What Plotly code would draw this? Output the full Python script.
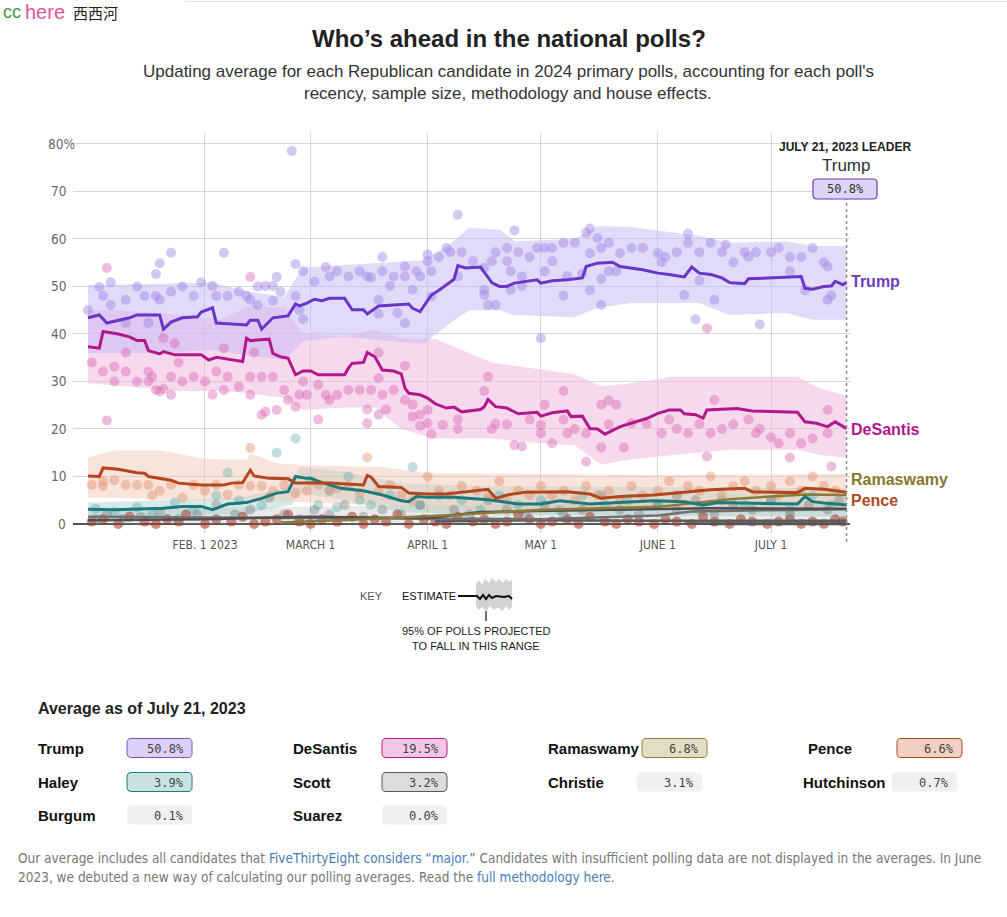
import plotly.graph_objects as go

W, H = 1007, 917

# ---------------------------------------------------------------- data
# polling averages (MM-DD in 2023, percent)
trump_line = [("01-01",43.4),("01-04",44.0),("01-06",42.3),("01-09",42.8),("01-12",43.4),("01-14",44.0),
    ("01-20",44.0),("01-21",41.0),("01-23",42.5),("01-26",43.4),("01-30",43.6),("01-31",44.6),("02-03",45.5),
    ("02-04",42.3),("02-12",41.9),("02-13",42.9),("02-15",42.9),("02-16",41.0),("02-19",43.4),("02-23",43.8),
    ("02-25",46.3),("02-26",45.9),("02-28",46.5),("03-02",47.3),("03-04",47.0),("03-06",47.5),("03-10",47.5),
    ("03-12",45.1),("03-15",45.1),("03-16",44.2),("03-19",45.9),("03-27",46.3),("03-28",45.4),("03-30",44.7),
    ("04-02",48.2),("04-04",49.2),("04-06",50.4),("04-08",51.5),("04-09",54.4),("04-11",53.9),("04-15",54.1),
    ("04-18",50.8),("04-20",50.0),("04-22",50.0),("04-24",50.7),("04-29",51.2),("04-30",51.4),("05-01",50.7),
    ("05-04",51.2),("05-08",51.4),("05-12",51.8),("05-13",54.2),("05-16",54.9),("05-20",55.1),("05-22",54.2),
    ("05-28",53.5),("06-01",52.8),("06-04",52.5),("06-08",52.0),("06-10",54.1),("06-12",52.8),("06-15",52.5),
    ("06-18",51.8),("06-20",50.8),("06-24",50.6),("06-25",51.6),("07-02",51.9),("07-09",52.1),("07-10",49.6),
    ("07-12",49.4),("07-15",50.0),("07-17",50.1),("07-18",51.1),("07-20",50.4),("07-21",50.8)]
desantis_line = [("01-01",37.3),("01-04",37.0),("01-05",40.5),("01-09",40.0),("01-12",39.4),("01-14",38.6),
    ("01-16",38.6),("01-17",36.5),("01-20",35.8),("01-21",36.3),("01-24",35.6),("01-31",35.6),("02-02",34.5),
    ("02-04",35.1),("02-07",34.7),("02-11",34.2),("02-12",39.1),("02-13",38.6),("02-18",38.9),("02-19",35.9),
    ("02-21",35.2),("02-23",34.9),("02-25",31.4),("02-27",32.2),("03-01",32.2),("03-03",31.4),("03-10",31.4),
    ("03-11",32.8),("03-12",33.8),("03-15",34.0),("03-16",36.1),("03-18",35.2),("03-20",32.4),("03-23",32.2),
    ("03-25",31.6),("03-26",28.6),("03-27",27.5),("03-30",27.2),("04-01",26.5),("04-03",25.3),("04-06",24.4),
    ("04-08",24.6),("04-10",23.6),("04-15",24.1),("04-16",24.7),("04-17",26.2),("04-19",24.7),("04-22",24.4),
    ("04-25",23.2),("04-30",23.5),("05-01",22.7),("05-04",23.4),("05-08",23.8),("05-09",22.6),("05-12",22.7),
    ("05-14",20.1),("05-16",20.0),("05-18",18.9),("05-22",20.5),("05-25",21.2),("05-29",22.2),("06-01",23.3),
    ("06-04",24.0),("06-07",24.0),("06-08",23.2),("06-11",23.0),("06-13",22.3),("06-14",24.0),("06-22",24.3),
    ("06-26",23.8),("07-08",23.5),("07-10",21.5),("07-13",21.2),("07-15",20.7),("07-16",20.5),("07-18",21.5),
    ("07-21",20.1)]
pence_line = [("01-01",10.1),("01-04",10.0),("01-05",11.8),("01-09",11.5),("01-14",10.8),("01-16",10.7),
    ("01-17",10.0),("01-20",9.6),("01-23",9.2),("01-25",8.6),("01-31",8.2),("02-06",8.2),("02-08",8.6),
    ("02-11",8.7),("02-13",11.3),("02-14",10.1),("02-18",9.6),("02-23",9.5),("02-25",8.6),("03-06",8.6),
    ("03-15",8.2),("03-16",10.2),("03-17",9.9),("03-19",7.9),("03-25",7.7),("03-27",6.5),("04-01",6.3),
    ("04-06",6.3),("04-12",6.8),("04-17",7.3),("04-19",5.4),("04-22",6.1),("04-27",6.7),("05-08",6.8),
    ("05-14",6.3),("05-17",5.4),("05-22",5.8),("05-31",6.1),("06-08",6.7),("06-15",7.2),("06-24",7.5),
    ("06-26",6.8),("07-08",6.6),("07-10",7.5),("07-15",7.3),("07-21",6.7)]
haley_line = [("01-01",3.1),("01-08",3.0),("01-21",3.3),("01-26",3.7),("01-31",3.7),("02-03",3.0),("02-07",4.2),
    ("02-12",4.5),("02-16",5.4),("02-20",6.5),("02-23",6.8),("02-25",10.0),("02-28",9.6),("03-01",9.6),
    ("03-04",8.7),("03-09",7.5),("03-15",7.0),("03-20",6.1),("03-25",4.9),("03-27",4.7),("03-29",5.8),
    ("04-01",5.6),("04-08",5.6),("04-17",5.1),("04-25",4.2),("05-01",4.2),("05-06",4.9),("05-14",4.2),
    ("05-31",4.9),("06-08",4.7),("06-13",4.0),("06-17",4.5),("07-08",4.2),("07-10",5.8),("07-12",4.7),
    ("07-15",4.4),("07-21",4.0)]
ramaswamy_line = [("02-21",0.3),("03-15",1.0),("04-10",2.0),("05-01",3.0),("06-01",3.6),("06-20",5.2),
    ("07-01",5.8),("07-10",6.2),("07-21",6.1)]
scott_line = [("01-01",0.8),("02-01",1.0),("03-01",1.5),("04-01",1.2),("04-15",2.5),("05-01",2.8),
    ("05-20",3.0),("06-15",3.3),("07-21",3.2)]
christie_line = [("01-01",1.5),("03-01",1.2),("05-01",1.0),("06-01",1.8),("06-10",2.6),("07-01",2.9),("07-21",3.1)]
hutchinson_line = [("04-03",0.5),("05-01",0.8),("06-01",0.7),("07-21",0.7)]
burgum_line = [("06-08",0.1),("07-21",0.1)]
suarez_line = [("06-15",0.0),("07-21",0.0)]

# 95% ranges (date, upper, lower)
trump_band = [("01-01",50.3,36.0),("01-20",50.5,36.0),("02-03",50.8,36.6),("02-12",49.0,35.5),("02-22",47.8,34.5),
    ("02-27",54.0,38.5),("03-10",54.5,39.4),("03-22",55.0,38.5),("03-31",55.5,38.0),("04-07",59.0,42.3),
    ("04-12",62.3,45.0),("04-20",62.0,45.0),("04-24",59.5,44.0),("05-10",60.0,43.5),("05-16",62.7,45.5),
    ("05-25",62.5,46.5),("06-05",61.3,46.5),("06-12",60.6,46.5),("06-20",59.2,44.0),("07-05",59.5,44.4),
    ("07-12",58.5,43.0),("07-21",58.5,43.0)]
desantis_band = [("01-01",45.0,29.6),("01-10",45.0,29.0),("01-25",44.0,28.0),("02-05",43.0,28.0),("02-13",46.0,27.5),
    ("02-22",45.5,26.5),("02-27",40.0,24.0),("03-10",39.5,24.5),("03-18",41.0,24.5),("03-25",39.0,20.0),
    ("04-03",39.0,18.0),("04-12",36.0,18.0),("04-18",34.0,18.0),("05-01",32.5,17.0),("05-10",31.5,16.5),
    ("05-17",29.0,12.5),("05-24",29.5,13.5),("06-05",31.0,14.5),("06-20",31.0,15.6),("07-08",31.0,15.6),
    ("07-14",28.5,14.5),("07-21",27.0,14.0)]
pence_band = [("01-01",14.0,5.5),("01-08",15.5,5.5),("01-20",15.5,5.2),("02-01",13.7,5.0),("02-12",13.5,5.0),
    ("02-13",14.8,5.0),("02-20",12.8,4.8),("03-01",12.3,4.5),("03-20",12.0,4.0),("04-01",10.7,3.0),
    ("05-01",10.5,3.0),("06-01",10.3,3.0),("07-21",10.5,3.0)]
haley_band = [("01-01",4.5,1.5),("02-10",5.5,2.0),("02-24",8.0,4.0),("02-26",12.0,6.5),("03-10",11.0,5.0),
    ("03-25",8.5,2.5),("04-15",8.0,2.0),("07-21",7.5,1.5)]
others_band = [("01-01",3.0,0.0),("04-01",4.0,0.0),("07-21",5.0,0.0)]

# individual polls (date, percent)
trump_polls = [("01-01",45.0),("01-04",49.9),("01-05",48.0),("01-07",50.9),("01-07",46.1),("01-11",47.2),("01-11",42.3),
    ("01-14",50.0),("01-16",48.0),("01-17",42.3),("01-19",48.0),("01-19",52.6),("01-20",47.2),("01-20",54.9),
    ("01-23",57.1),("01-23",48.9),("01-26",50.0),("01-29",48.0),("01-31",50.9),("02-03",50.1),("02-04",48.0),
    ("02-06",57.1),("02-07",48.0),("02-10",48.9),("02-12",48.0),("02-13",47.2),("02-15",50.0),("02-15",46.1),
    ("02-17",50.1),("02-19",50.1),("02-19",47.0),("02-20",52.0),("02-21",48.9),("02-24",78.5),("02-25",54.7),
    ("02-25",48.0),("02-26",45.0),("02-27",43.1),("02-27",53.2),("03-02",51.0),("03-05",54.1),("03-06",52.1),
    ("03-08",53.2),("03-11",52.1),("03-14",53.2),("03-16",52.1),("03-17",51.9),("03-19",47.2),("03-19",44.2),
    ("03-20",56.2),("03-20",53.2),("03-22",50.1),("03-23",52.1),("03-24",44.4),("03-26",54.2),("03-26",52.1),
    ("03-26",42.3),("03-28",49.3),("03-29",53.2),("03-30",52.1),("04-01",56.7),("04-01",55.3),("04-02",53.2),
    ("04-02",47.9),("04-04",56.2),("04-06",58.1),("04-07",57.2),("04-09",65.1),("04-09",52.1),("04-10",57.2),
    ("04-13",55.3),("04-16",53.9),("04-16",49.3),("04-16",48.2),("04-17",46.1),("04-18",55.3),("04-19",57.2),
    ("04-19",46.1),("04-22",55.3),("04-22",58.1),("04-23",53.2),("04-23",49.3),("04-24",61.8),("04-25",57.2),
    ("04-26",52.1),("04-26",50.1),("04-28",56.2),("04-30",58.1),("05-01",39.1),("05-02",58.1),("05-02",53.2),
    ("05-04",58.1),("05-04",55.3),("05-07",59.2),("05-07",48.1),("05-08",52.2),("05-10",59.2),("05-12",52.7),
    ("05-13",61.3),("05-14",62.2),("05-14",57.0),("05-14",49.2),("05-16",60.2),("05-17",58.1),("05-17",51.6),
    ("05-17",46.1),("05-19",59.2),("05-19",53.2),("05-21",53.2),("05-22",57.0),("05-25",58.1),("05-28",58.1),
    ("06-01",57.0),("06-02",55.1),("06-03",56.2),("06-06",57.2),("06-08",48.2),("06-09",61.1),("06-09",59.2),
    ("06-11",43.1),("06-12",57.2),("06-12",51.2),("06-15",59.2),("06-16",47.2),("06-18",57.2),("06-19",58.8),
    ("06-21",55.1),("06-24",57.2),("06-25",56.2),("06-27",57.2),("06-28",42.0),("07-01",57.2),("07-03",58.1),
    ("07-06",56.2),("07-06",53.2),("07-09",56.2),("07-10",49.2),("07-12",58.1),("07-15",55.1),("07-16",54.2),
    ("07-16",47.2),("07-17",48.1)]
desantis_polls = [("01-02",34.0),("01-05",32.1),("01-06",21.8),("01-06",53.9),("01-08",33.1),("01-08",30.0),
    ("01-11",36.1),("01-11",32.1),("01-14",30.0),("01-17",32.1),("01-17",30.0),("01-18",31.0),("01-19",28.2),
    ("01-20",27.9),("01-21",39.1),("01-21",28.4),("01-23",31.0),("01-23",27.2),("01-24",38.0),("01-25",34.0),
    ("01-26",30.0),("01-29",31.0),("02-01",30.0),("02-03",27.2),("02-04",32.1),("02-06",37.0),("02-06",28.2),
    ("02-07",31.0),("02-10",28.9),("02-13",27.2),("02-13",31.0),("02-13",52.0),("02-14",36.1),("02-16",31.0),
    ("02-16",23.0),("02-17",23.6),("02-19",31.0),("02-20",24.0),("02-22",28.2),("02-23",26.1),("02-25",24.7),
    ("02-26",27.2),("02-27",30.0),("02-28",27.2),("03-03",29.3),("03-03",22.0),("03-05",27.2),("03-06",26.1),
    ("03-08",27.2),("03-11",28.2),("03-14",28.2),("03-16",24.1),("03-16",21.2),("03-17",28.2),("03-19",23.0),
    ("03-19",30.7),("03-19",36.1),("03-20",27.2),("03-21",24.1),("03-23",28.2),("03-26",26.1),("03-26",33.3),
    ("03-28",25.1),("03-28",22.6),("03-30",23.0),("03-30",20.7),("04-01",24.0),("04-01",21.2),("04-02",18.9),
    ("04-05",20.9),("04-09",22.0),("04-09",20.0),("04-16",28.0),("04-17",31.0),("04-18",20.0),("04-19",21.1),
    ("04-22",21.0),("04-24",16.6),("04-26",16.3),("04-28",22.0),("05-01",19.1),("05-01",20.8),("05-02",25.1),
    ("05-04",17.0),("05-07",28.0),("05-07",22.0),("05-08",19.1),("05-10",20.0),("05-13",13.1),("05-13",19.1),
    ("05-17",25.1),("05-17",16.1),("05-19",26.0),("05-19",21.0),("05-21",25.1),("05-23",16.1),("05-25",21.2),
    ("05-29",21.1),("06-02",19.1),("06-04",22.0),("06-06",20.0),("06-09",19.1),("06-12",21.1),("06-14",14.2),
    ("06-14",41.2),("06-15",19.1),("06-16",26.1),("06-18",20.0),("06-21",21.0),("06-25",22.0),("06-27",19.1),
    ("06-28",20.0),("07-01",18.2),("07-03",17.0),("07-06",14.0),("07-06",19.1),("07-09",17.0),("07-12",18.0),
    ("07-16",24.0),("07-16",19.1),("07-17",12.1)]
pence_polls = [("01-02",8.2),("01-05",8.0),("01-05",9.0),("01-08",9.2),("01-11",8.2),("01-14",8.2),("01-17",8.2),
    ("01-18",6.0),("01-20",7.0),("01-23",8.2),("01-26",5.5),("01-29",8.2),("02-01",7.0),("02-04",8.2),("02-07",6.2),
    ("02-10",8.2),("02-13",16.0),("02-13",8.0),("02-16",8.0),("02-19",7.0),("02-22",8.2),("02-25",6.5),("02-28",7.0),
    ("03-03",8.2),("03-06",7.0),("03-08",7.5),("03-11",8.0),("03-14",6.5),("03-16",14.0),("03-19",7.0),("03-22",8.2),
    ("03-25",6.0),("03-28",5.0),("04-01",10.0),("04-04",7.0),("04-07",6.0),("04-10",8.0),("04-14",7.0),("04-17",6.0),
    ("04-20",9.0),("04-22",5.0),("04-25",7.0),("04-28",6.0),("05-01",8.0),("05-04",6.0),("05-07",7.0),("05-10",5.0),
    ("05-13",8.0),("05-16",6.0),("05-19",7.0),("05-22",5.0),("05-25",8.0),("05-28",6.0),("06-01",7.0),("06-04",9.0),
    ("06-06",6.0),("06-09",8.0),("06-12",7.0),("06-15",10.0),("06-18",6.0),("06-21",8.0),("06-24",9.0),("06-27",7.0),
    ("07-01",8.0),("07-03",6.0),("07-06",9.0),("07-09",7.0),("07-12",10.0),("07-15",8.0),("07-18",7.0)]
haley_polls = [("01-03",3.2),("01-08",2.5),("01-14",3.5),("01-18",2.0),("01-24",4.5),("01-29",3.0),("02-04",6.0),
    ("02-07",10.8),("02-10",5.0),("02-16",4.0),("02-20",15.0),("02-25",18.0),("03-01",9.0),("03-03",4.0),("03-06",7.0),
    ("03-08",3.5),("03-11",10.0),("03-14",5.0),("03-17",4.0),("03-22",6.0),("03-28",12.0),("03-30",4.0),("04-04",6.0),
    ("04-10",5.0),("04-15",3.0),("04-20",6.0),("04-25",4.0),("05-01",5.0),("05-06",3.0),("05-12",6.0),("05-18",4.0),
    ("05-24",5.0),("06-01",4.0),("06-06",6.0),("06-12",3.0),("06-18",5.0),("06-24",4.0),("07-01",5.0),("07-06",3.0),
    ("07-12",6.0),("07-17",4.0)]
other_polls = [("01-03",1.0),("01-06",2.0),("01-10",1.0),("01-15",1.5),("01-20",2.5),("01-25",1.0),("01-30",2.0),
    ("02-04",4.0),("02-09",2.0),("02-13",3.0),("02-18",5.5),("02-22",2.0),("02-26",1.0),("03-02",3.0),("03-06",2.0),
    ("03-10",4.0),("03-15",1.5),("03-20",3.0),("03-25",2.0),("03-30",4.0),("04-04",1.0),("04-08",3.0),("04-12",2.0),
    ("04-17",5.0),("04-22",3.0),("04-27",2.0),("05-02",4.0),("05-07",2.0),("05-12",3.0),("05-17",6.0),("05-22",3.0),
    ("05-27",2.0),("06-01",4.0),("06-06",3.0),("06-11",5.0),("06-16",2.0),("06-21",4.0),("06-26",3.0),("07-01",5.0),
    ("07-06",2.0),("07-11",4.0),("07-16",3.0),("07-19",5.0)]
low_polls = [("01-02",0.5),("01-05",1.0),("01-09",0.0),("01-12",1.5),("01-16",0.5),("01-19",0.0),("01-22",1.0),
    ("01-25",0.5),("01-27",2.0),("02-01",0.0),("02-04",1.0),("02-08",0.5),("02-11",1.5),("02-14",0.0),("02-17",0.5),
    ("02-20",1.0),("02-23",2.0),("02-26",0.5),("03-01",0.0),("03-04",1.0),("03-08",0.5),("03-12",1.5),("03-15",0.0),
    ("03-18",1.0),("03-21",0.5),("03-24",2.0),("03-27",0.0),("03-31",1.0),("04-03",0.5),("04-06",0.0),("04-09",1.5),
    ("04-13",0.5),("04-16",1.0),("04-19",0.0),("04-22",0.5),("04-25",2.0),("04-28",1.0),("05-01",0.0),("05-04",0.5),
    ("05-08",1.0),("05-11",0.0),("05-14",1.5),("05-18",0.5),("05-21",0.0),("05-24",1.0),("05-27",0.5),("05-31",0.0),
    ("06-03",1.0),("06-06",0.5),("06-10",0.0),("06-13",1.5),("06-16",0.5),("06-20",0.0),("06-23",1.0),("06-26",0.5),
    ("06-30",0.0),("07-03",0.5),("07-06",1.0),("07-09",0.0),("07-12",0.5),("07-15",0.0),("07-18",1.0),("07-20",0.5)]

# axes
x_tick_dates = ["2023-02-01", "2023-03-01", "2023-04-01", "2023-05-01", "2023-06-01", "2023-07-01"]
x_tick_text = ["FEB. 1 2023", "MARCH 1", "APRIL 1", "MAY 1", "JUNE 1", "JULY 1"]
y_tick_vals = [0, 10, 20, 30, 40, 50, 60, 70, 80]
y_tick_text = ["0", "10", "20", "30", "40", "50", "60", "70", "80%"]

# table: averages as of July 21, 2023
table_names = ["Trump", "DeSantis", "Ramaswamy", "Pence", "Haley", "Scott", "Christie", "Hutchinson", "Burgum", "Suarez"]
table_values = [50.8, 19.5, 6.8, 6.6, 3.9, 3.2, 3.1, 0.7, 0.1, 0.0]
leader_name = "Trump"
leader_value = 50.8
as_of = "July 21, 2023"
as_of_date = "2023-07-21"

# ---------------------------------------------------------------- helpers
def dx(pts):
    return ["2023-" + p[0] for p in pts]

def col(pts, i):
    return [p[i] for p in pts]

def X(v):
    return v / W

def Y(v):
    return 1 - v / H

SANS = "Liberation Sans, Arial, sans-serif"
NARROW = "DejaVu Sans Condensed, sans-serif"
MONO = "DejaVu Sans Mono, Liberation Mono, monospace"

fig = go.Figure()

def band(pts, color):
    fig.add_trace(go.Scatter(x=dx(pts), y=col(pts, 1), mode="lines", line=dict(width=0),
                             hoverinfo="skip", showlegend=False))
    fig.add_trace(go.Scatter(x=dx(pts), y=col(pts, 2), mode="lines", line=dict(width=0),
                             fill="tonexty", fillcolor=color, hoverinfo="skip", showlegend=False))

def dots(pts, color, op):
    fig.add_trace(go.Scatter(x=dx(pts), y=col(pts, 1), mode="markers",
                             marker=dict(size=10, color=color, opacity=op, line=dict(width=0)),
                             hoverinfo="skip", showlegend=False))

def line(pts, color, w=3):
    fig.add_trace(go.Scatter(x=dx(pts), y=col(pts, 1), mode="lines",
                             line=dict(color=color, width=w), hoverinfo="skip", showlegend=False))

# bands
band(others_band, "rgba(160,160,160,0.22)")
band(haley_band, "rgba(140,195,195,0.35)")
band(pence_band, "rgba(240,195,172,0.45)")
band(desantis_band, "rgba(240,185,222,0.55)")
band(trump_band, "rgba(198,182,243,0.5)")

# polls
dots(low_polls, "#a8321f", 0.55)
dots(other_polls, "#7d7d7d", 0.4)
dots(haley_polls, "#4aa5a5", 0.35)
dots(pence_polls, "#df9270", 0.45)
dots(desantis_polls, "#d96bb6", 0.45)
dots(trump_polls, "#9c84e3", 0.45)

# averages
line(suarez_line, "#555555", 2.5)
line(burgum_line, "#555555", 2.5)
line(hutchinson_line, "#5c5c5c", 2.5)
line(christie_line, "#707070", 2.5)
line(scott_line, "#4f4f4f", 2.5)
line(ramaswamy_line, "#8b7b3b", 2.5)
line(haley_line, "#1d7a7c", 3)
line(pence_line, "#b4461c", 3)
line(desantis_line, "#b3178e", 3)
line(trump_line, "#6a35c8", 3)

# ---------------------------------------------------------------- layout
x_left, x_right = 72.9, 850.3
y_top, y_bot = 133, 533

fig.update_layout(
    width=W, height=H, margin=dict(l=0, r=0, t=0, b=0),
    paper_bgcolor="white", plot_bgcolor="white", showlegend=False, hovermode=False,
    xaxis=dict(domain=[X(x_left), X(x_right)], type="date",
               range=["2022-12-28", "2023-07-22"], tickvals=x_tick_dates, ticktext=x_tick_text,
               showgrid=True, gridcolor="#d6d6d6", gridwidth=1, zeroline=False, showline=False,
               ticks="", tickfont=dict(family=NARROW, size=12, color="#555"), ticklabelstandoff=3),
    yaxis=dict(domain=[Y(y_bot), Y(y_top)], range=[-1.9, 82.3], tickvals=y_tick_vals,
               showticklabels=False, showgrid=True, gridcolor="#d6d6d6", gridwidth=1,
               zeroline=True, zerolinecolor="#555555", zerolinewidth=2, showline=False, ticks=""),
)

ann = []

def A(text, x, y, size, color="#222", family=SANS, xanchor="left", yanchor="middle", **kw):
    ann.append(dict(text=text, x=X(x), y=Y(y), xref="paper", yref="paper", showarrow=False,
                    xanchor=xanchor, yanchor=yanchor, font=dict(size=size, color=color, family=family), **kw))

# y tick labels
for v, t in zip(y_tick_vals, y_tick_text):
    ann.append(dict(text=t, x=X(77 if t.endswith("%") else 68), y=v, xref="paper", yref="y",
                    showarrow=False, xanchor="right", yanchor="middle",
                    font=dict(size=13.5, color="#666", family=NARROW)))

# header
A("cc", 1, 12, 18, "#3f9a3f")
A("here", 23, 12, 20, "#e0559c")
A("西西河", 71, 12, 15, "#222", "Noto Sans CJK SC")
A("<b>Who’s ahead in the national polls?</b>", 509, 38, 24, "#222", SANS, "center")
A("Updating average for each Republican candidate in 2024 primary polls, accounting for each poll's",
  508, 72, 17, "#333", SANS, "center")
A("recency, sample size, methodology and house effects.", 508, 93, 17, "#333", SANS, "center")

# leader callout
A("<b>JULY 21, 2023 LEADER</b>", 845, 147, 12, "#222", SANS, "center")
A(leader_name, 846, 165, 17, "#333", SANS, "center")
A(f"{leader_value:.1f}%", 845, 189, 12, "#333", MONO, "center")

# end-of-line labels
A("<b>Trump</b>", 849, 281, 16, "#6a3dbf")
A("<b>DeSantis</b>", 849, 429, 16, "#b0168b")
A("<b>Ramaswamy</b>", 849, 479, 16, "#86772c")
A("<b>Pence</b>", 849, 501, 16, "#b04a20")

# key
A("KEY", 371, 596, 11, "#555", SANS, "center")
A("ESTIMATE", 400, 596, 11, "#111", SANS, "left")
A("95% OF POLLS PROJECTED", 476, 631, 11, "#222", SANS, "center")
A("TO FALL IN THIS RANGE", 476, 646, 11, "#222", SANS, "center")

# table
A("<b>Average as of " + as_of + "</b>", 36, 708, 16, "#222")
item_pos = [(36, 127, 748), (291, 382, 748), (546, 642, 748), (806, 897, 748),
            (36, 127, 782), (291, 382, 782), (546, 637, 782), (801, 892, 782),
            (36, 127, 815), (291, 382, 815)]
box_style = [("#dcd0f6", "#7a55cc"), ("#f4c6e6", "#b3178e"), ("#e4ddc3", "#8b7b3b"), ("#f1d0c4", "#b4461c"),
             ("#c8e3e1", "#1d7a7c"), ("#dcdcdc", "#555555"), ("#f0f0f0", None), ("#f0f0f0", None),
             ("#f0f0f0", None), ("#f0f0f0", None)]

shapes = []

def rr(x0, y0, x1, y1, r=4):
    def P(a, b):
        return f"{X(a):.5f},{Y(b):.5f}"
    return (f"M{P(x0 + r, y0)} L{P(x1 - r, y0)} Q{P(x1, y0)} {P(x1, y0 + r)} L{P(x1, y1 - r)} "
            f"Q{P(x1, y1)} {P(x1 - r, y1)} L{P(x0 + r, y1)} Q{P(x0, y1)} {P(x0, y1 - r)} "
            f"L{P(x0, y0 + r)} Q{P(x0, y0)} {P(x0 + r, y0)} Z")

def poly(pts, close=True):
    s = "M" + " L".join(f"{X(a):.5f},{Y(b):.5f}" for a, b in pts)
    return s + (" Z" if close else "")

for name, val, (nx, bx, yy), (fc, lc) in zip(table_names, table_values, item_pos, box_style):
    A(f"<b>{name}</b>", nx, yy, 15, "#111")
    shapes.append(dict(type="path", path=rr(bx, yy - 9.5, bx + 65, yy + 9.5), xref="paper", yref="paper",
                       fillcolor=fc, line=dict(color=lc if lc else fc, width=1 if lc else 0), layer="above"))
    A(f"{val:.1f}%", bx + 59, yy + 0.5, 12, "#444", MONO, "right")

# footer
LINK = "#4a7db3"
A(f'Our average includes all candidates that <span style="color:{LINK}">FiveThirtyEight considers “major.”</span>'
  ' Candidates with insufficient polling data are not displayed in the averages. In June',
  16, 858, 13.5, "#777", NARROW)
A(f'2023, we debuted a new way of calculating our polling averages. Read the '
  f'<span style="color:{LINK}">full methodology here</span>.', 16, 877, 13.5, "#777", NARROW)

# leader box + dotted line
shapes.append(dict(type="line", xref="x", yref="paper", x0=as_of_date, x1=as_of_date, y0=Y(542), y1=Y(199),
                   line=dict(color="#8a8a8a", width=1.5, dash="dot"), layer="above"))
shapes.append(dict(type="path", path=rr(813, 179, 877, 199), xref="paper", yref="paper",
                   fillcolor="#ddd5f7", line=dict(color="#6a3dbf", width=1.2), layer="above"))

# key graphic
band_top = [(476, 584), (479, 580), (482, 585), (485, 579), (489, 583), (492, 578), (496, 582), (499, 579),
            (503, 583), (506, 579), (509, 582), (512, 580)]
band_bot = [(512, 607), (509, 610), (506, 606), (502, 611), (498, 607), (494, 610), (490, 606), (486, 611),
            (482, 607), (479, 610), (476, 606)]
shapes.append(dict(type="path", path=poly(band_top + band_bot), xref="paper", yref="paper",
                   fillcolor="#d2d2d2", line=dict(width=0), layer="above"))
shapes.append(dict(type="path", path=poly([(458, 596), (477, 596), (480, 599), (483, 595), (486, 599),
                                            (489, 595), (492, 598), (496, 596), (504, 597), (509, 596),
                                            (512, 599)], close=False),
                   xref="paper", yref="paper", line=dict(color="#111", width=2), layer="above"))
shapes.append(dict(type="line", xref="paper", yref="paper", x0=X(486), x1=X(486), y0=Y(611), y1=Y(621),
                   line=dict(color="#111", width=1.2), layer="above"))
# faint top rule
shapes.append(dict(type="line", xref="paper", yref="paper", x0=X(185), x1=1, y0=Y(1.5), y1=Y(1.5),
                   line=dict(color="#e2e2e2", width=1)))

fig.update_layout(annotations=ann, shapes=shapes)

fig.write_html("out.html", config={"displayModeBar": False},
               post_script="document.body.style.margin='0';document.body.style.overflow='hidden';")
